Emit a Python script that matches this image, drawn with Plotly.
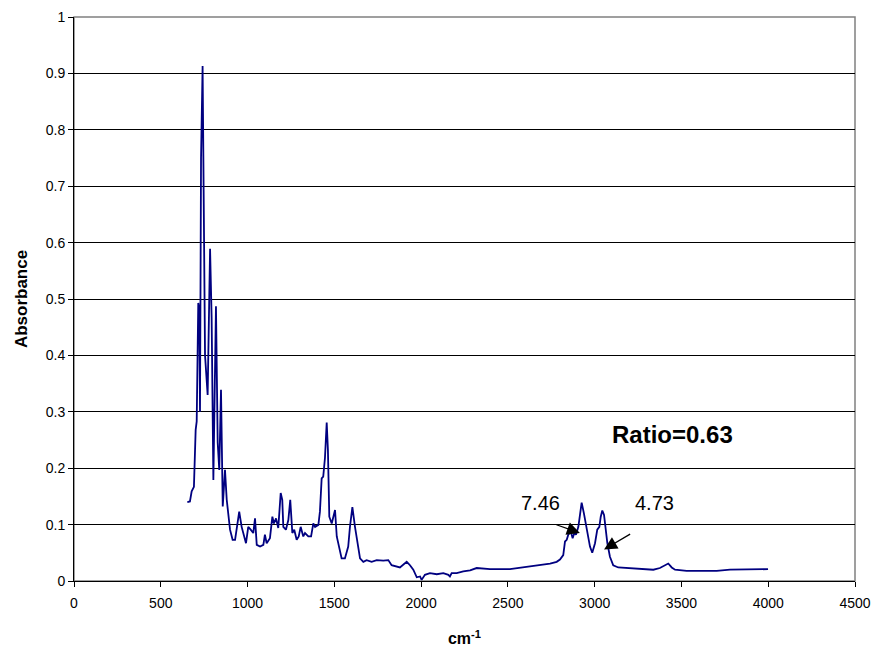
import plotly.graph_objects as go

# IR absorbance spectrum, wavenumber (cm-1) vs absorbance
wavenumber = [
    653, 668, 678, 691, 701, 707, 716, 722, 726, 732, 741, 749, 755, 770,
    784, 793, 803, 818, 828, 837, 847, 857, 870, 880, 899, 914, 928, 952,
    966, 991, 1004, 1018, 1033, 1043, 1053, 1072, 1091, 1100, 1110, 1129,
    1143, 1152, 1164, 1177, 1191, 1200, 1206, 1221, 1235, 1246, 1258, 1269,
    1283, 1295, 1306, 1321, 1331, 1350, 1366, 1379, 1389, 1408, 1417, 1427,
    1436, 1446, 1456, 1463, 1471, 1485, 1504, 1514, 1529, 1542, 1561, 1580,
    1590, 1604, 1619, 1635, 1648, 1667, 1686, 1715, 1744, 1782, 1811, 1830,
    1878, 1917, 1936, 1955, 1975, 1994, 2003, 2022, 2051, 2090, 2128, 2157,
    2166, 2176, 2205, 2243, 2282, 2320, 2397, 2512, 2589, 2666, 2743, 2781,
    2800, 2819, 2829, 2839, 2848, 2862, 2873, 2883, 2892, 2906, 2915, 2925,
    2938, 2954, 2973, 2986, 3002, 3015, 3027, 3035, 3044, 3054, 3063, 3073,
    3088, 3107, 3136, 3184, 3261, 3338, 3376, 3405, 3424, 3444, 3463, 3530,
    3607, 3703, 3780, 3895, 3999,
]
absorbance = [
    0.140, 0.141, 0.159, 0.167, 0.268, 0.283, 0.493, 0.481, 0.300, 0.750,
    0.913, 0.550, 0.400, 0.330, 0.589, 0.467, 0.179, 0.487, 0.245, 0.197,
    0.339, 0.132, 0.197, 0.144, 0.091, 0.073, 0.073, 0.123, 0.096, 0.067,
    0.096, 0.091, 0.085, 0.111, 0.064, 0.061, 0.064, 0.082, 0.067, 0.076,
    0.114, 0.102, 0.111, 0.094, 0.156, 0.144, 0.096, 0.091, 0.108, 0.144,
    0.085, 0.091, 0.073, 0.079, 0.096, 0.079, 0.085, 0.079, 0.079, 0.102,
    0.096, 0.0995, 0.123, 0.182, 0.185, 0.218, 0.281, 0.233, 0.114, 0.102,
    0.126, 0.079, 0.055, 0.040, 0.040, 0.061, 0.096, 0.131, 0.096, 0.061,
    0.040, 0.034, 0.037, 0.034, 0.037, 0.036, 0.037, 0.028, 0.024, 0.034,
    0.028, 0.020, 0.0066, 0.008, 0.002, 0.011, 0.014, 0.012, 0.014, 0.011,
    0.008, 0.014, 0.014, 0.017, 0.019, 0.023, 0.021, 0.021, 0.024, 0.027,
    0.031, 0.034, 0.038, 0.046, 0.070, 0.073, 0.082, 0.088, 0.076, 0.085,
    0.082, 0.096, 0.120, 0.139, 0.120, 0.091, 0.061, 0.050, 0.067, 0.091,
    0.096, 0.114, 0.125, 0.117, 0.094, 0.067, 0.043, 0.028, 0.024, 0.023,
    0.021, 0.020, 0.023, 0.027, 0.031, 0.024, 0.020, 0.018, 0.018, 0.018,
    0.020, 0.021, 0.021,
]

x_ticks = [0, 500, 1000, 1500, 2000, 2500, 3000, 3500, 4000, 4500]
y_ticks = [0, 0.1, 0.2, 0.3, 0.4, 0.5, 0.6, 0.7, 0.8, 0.9, 1]
y_tick_labels = ["0", "0.1", "0.2", "0.3", "0.4", "0.5", "0.6", "0.7", "0.8", "0.9", "1"]

# band labels with arrows: (text, text x, text y, arrow head x, head y, tail x, tail y)
ratio_text = "Ratio=0.63"
band_labels = [
    ("7.46", 2685, 0.1377, 2915, 0.085, 2771, 0.1007),
    ("4.73", 3342, 0.1377, 3054, 0.056, 3213, 0.0847),
]

FONT = "Liberation Sans, Arial, sans-serif"

fig = go.Figure()
fig.add_trace(go.Scatter(
    x=wavenumber, y=absorbance, mode="lines",
    line=dict(color="#000080", width=1.8),
    hoverinfo="x+y", showlegend=False,
))

annotations = [
    dict(x=3451, y=0.259, xref="x", yref="y", text="<b>" + ratio_text + "</b>",
         showarrow=False, font=dict(family=FONT, size=24, color="black")),
]
for text, tx, ty, hx, hy, ax_, ay_ in band_labels:
    annotations.append(dict(x=tx, y=ty, xref="x", yref="y", text=text,
                            showarrow=False,
                            font=dict(family=FONT, size=20, color="black")))
    annotations.append(dict(x=hx, y=hy, xref="x", yref="y", ax=ax_, ay=ay_,
                            axref="x", ayref="y", text="", showarrow=True,
                            arrowhead=2, arrowsize=2, arrowwidth=1.3,
                            arrowcolor="black"))

fig.update_layout(
    width=875, height=650,
    margin=dict(l=74, r=20, t=17, b=69, autoexpand=False),
    paper_bgcolor="white", plot_bgcolor="white",
    font=dict(family=FONT, size=14, color="black"),
    annotations=annotations,
    shapes=[dict(type="rect", xref="paper", yref="paper", x0=0, y0=0, x1=1, y1=1,
                 line=dict(color="#808080", width=1.5), layer="below")],
    xaxis=dict(
        range=[0, 4500], tickvals=x_ticks, ticktext=[str(v) for v in x_ticks],
        automargin=False,
        showgrid=False, zeroline=False, showline=True, linecolor="black",
        linewidth=1, ticks="outside", ticklen=5, tickcolor="black",
        ticklabelstandoff=4,
        tickfont=dict(family=FONT, size=14),
        title=dict(text="<b>cm<sup>-1</sup></b>", font=dict(family=FONT, size=16),
                   standoff=23),
    ),
    yaxis=dict(
        range=[0, 1], tickvals=y_ticks, ticktext=y_tick_labels,
        automargin=False,
        showgrid=True, gridcolor="black", gridwidth=1, zeroline=False,
        showline=True, linecolor="black", linewidth=1, ticks="outside",
        ticklen=5, tickcolor="black", tickfont=dict(family=FONT, size=14),
        title=dict(text="<b>Absorbance</b>", font=dict(family=FONT, size=17),
                   standoff=13),
    ),
)

fig.write_html("out.html")
